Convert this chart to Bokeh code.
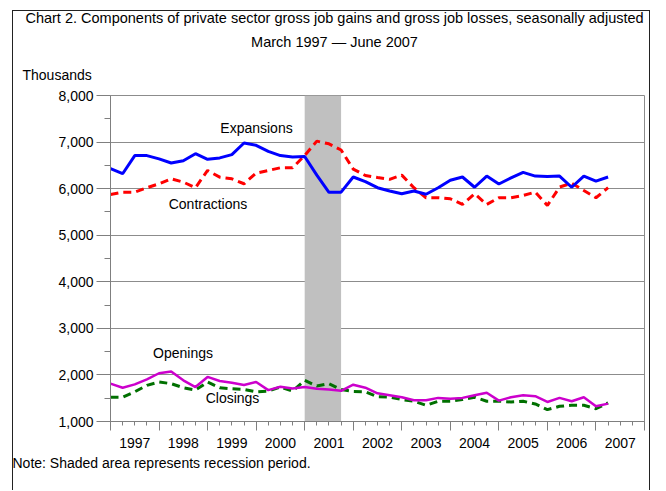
import numpy as np
from bokeh.plotting import figure
from bokeh.models import (Range1d, FixedTicker, LinearAxis, Label, BoxAnnotation, Title,
                          NumeralTickFormatter, Grid, InlineStyleSheet)
from bokeh.embed import file_html
from bokeh.resources import INLINE

# ---------------- data ----------------
years = ["1997", "1998", "1999", "2000", "2001", "2002", "2003", "2004", "2005", "2006", "2007"]
quarters = [f"{y}Q{q}" for y in years for q in (1, 2, 3, 4)][:42]   # 1997Q1 .. 2007Q2
recession = ("2001Q1", "2001Q4")

expansions = [6430, 6320, 6710, 6710, 6640, 6550, 6600, 6750, 6630, 6660, 6730, 6980,
              6930, 6800, 6710, 6680, 6690, 6290, 5920, 5925, 6250, 6150, 6020, 5950,
              5890, 5950, 5880, 6020, 6180, 6250, 6030, 6270, 6100, 6230, 6350, 6270,
              6260, 6270, 6030, 6270, 6160, 6250]
contractions = [5876, 5925, 5925, 6020, 6105, 6212, 6140, 6020, 6390, 6247, 6212, 6105,
                6333, 6390, 6448, 6448, 6712, 7020, 6963, 6830, 6420, 6283, 6240, 6200,
                6290, 6020, 5805, 5805, 5783, 5660, 5890, 5660, 5805, 5805, 5854, 5925,
                5640, 6033, 6118, 5960, 5805, 6020]
openings = [1812, 1725, 1797, 1906, 2036, 2072, 1884, 1739, 1957, 1870, 1833, 1783,
            1848, 1674, 1746, 1710, 1739, 1703, 1688, 1660, 1790, 1725, 1605, 1565,
            1522, 1457, 1457, 1507, 1486, 1507, 1565, 1616, 1449, 1522, 1565, 1543,
            1420, 1507, 1435, 1522, 1326, 1384]
closings = [1522, 1522, 1638, 1775, 1848, 1812, 1725, 1674, 1848, 1725, 1703, 1688,
            1638, 1652, 1739, 1652, 1884, 1761, 1812, 1688, 1645, 1638, 1530, 1522,
            1471, 1435, 1348, 1435, 1435, 1471, 1522, 1435, 1435, 1420, 1435, 1377,
            1254, 1326, 1348, 1348, 1275, 1400]

y_ticks = [1000, 2000, 3000, 4000, 5000, 6000, 7000, 8000]

title1 = "Chart 2. Components of private sector gross job gains and gross job losses, seasonally adjusted"
title2 = "March 1997 \u2014 June 2007"
y_unit = "Thousands"
note = "Note: Shaded area represents recession period."

# ---------------- layout ----------------
FONT = "Liberation Sans"
x = list(range(len(quarters)))
n_slots = 4 * len(years)
year_bounds = [4 * k for k in range(len(years) + 1)]
year_mids = [b + 2 for b in year_bounds[:-1]]

W, H = 650, 475
FRAME_L, FRAME_R, FRAME_T, FRAME_B = 110, 644, 95, 421
TITLE_FS = 14.5

# Arial / Liberation Sans advance widths (1/1000 em) for centring titles
_AW = {' ': 278, '.': 278, ',': 278, '-': 333, '\u2014': 1000, ':': 278}
_AW.update({d: 556 for d in "0123456789"})
_AW.update(dict(zip("ABCDEFGHIJKLMNOPQRSTUVWXYZ",
                    [667, 667, 722, 722, 667, 611, 778, 722, 278, 500, 667, 556, 833,
                     722, 778, 667, 778, 722, 667, 611, 722, 667, 944, 667, 667, 611])))
_AW.update(dict(zip("abcdefghijklmnopqrstuvwxyz",
                    [556, 556, 500, 556, 556, 278, 556, 556, 222, 222, 500, 222, 833,
                     556, 556, 556, 556, 333, 500, 278, 556, 500, 722, 500, 500, 500])))

def text_w(s, size):
    return sum(_AW.get(c, 556) for c in s) * size / 1000.0

p = figure(width=W, height=H, x_range=Range1d(0, n_slots),
           y_range=Range1d(y_ticks[0], y_ticks[-1]),
           output_backend="svg", toolbar_location=None, title=None,
           x_axis_type=None, y_axis_type=None,
           min_border_left=FRAME_L, min_border_right=W - FRAME_R,
           min_border_top=0, min_border_bottom=H - FRAME_B)
p.outline_line_color = "#8C8C8C"
p.outline_line_width = 1
p.background_fill_color = "white"
p.border_fill_color = "white"

AX = "#7F7F7F"
TICK_FS = "14px"

# y axis
yaxis = LinearAxis(ticker=FixedTicker(ticks=y_ticks,
                                      minor_ticks=[t + 500 for t in y_ticks[:-1]]),
                   formatter=NumeralTickFormatter(format="0,0"))
yaxis.axis_line_color = AX
yaxis.major_tick_line_color = AX
yaxis.minor_tick_line_color = AX
yaxis.major_tick_out = 14
yaxis.major_tick_in = 0
yaxis.minor_tick_out = 6
yaxis.minor_tick_in = 0
yaxis.major_label_standoff = 3
yaxis.major_label_text_font = FONT
yaxis.major_label_text_font_size = TICK_FS
yaxis.major_label_text_color = "black"
p.add_layout(yaxis, "left")

grid = Grid(dimension=1, ticker=yaxis.ticker, grid_line_color="#8C8C8C", grid_line_width=1)
p.add_layout(grid)

# x axis: tick marks (years long, quarters short)
xaxis_ticks = LinearAxis(ticker=FixedTicker(ticks=year_bounds, minor_ticks=list(range(n_slots + 1))),
                         major_label_overrides={b: "" for b in year_bounds})
xaxis_ticks.axis_line_color = AX
xaxis_ticks.major_tick_line_color = AX
xaxis_ticks.minor_tick_line_color = AX
xaxis_ticks.major_tick_out = 9
xaxis_ticks.major_tick_in = 0
xaxis_ticks.minor_tick_out = 4
xaxis_ticks.minor_tick_in = 0
xaxis_ticks.major_label_standoff = 0
xaxis_ticks.major_label_text_font_size = "1px"
p.add_layout(xaxis_ticks, "below")

# x axis: year labels centred in each year
xaxis_lab = LinearAxis(ticker=FixedTicker(ticks=year_mids, minor_ticks=[]),
                       major_label_overrides={m: y for m, y in zip(year_mids, years)})
xaxis_lab.axis_line_color = None
xaxis_lab.major_tick_line_color = None
xaxis_lab.minor_tick_line_color = None
xaxis_lab.major_tick_out = 0
xaxis_lab.major_tick_in = 0
xaxis_lab.minor_tick_out = 0
xaxis_lab.minor_tick_in = 0
xaxis_lab.major_label_standoff = 7
xaxis_lab.major_label_text_font = FONT
xaxis_lab.major_label_text_font_size = TICK_FS
xaxis_lab.major_label_text_color = "black"
p.add_layout(xaxis_lab, "below")

# note below
p.add_layout(Title(text=note, align="left", offset=12 - FRAME_L, vertical_align="bottom",
                   standoff=4, text_font=FONT, text_font_size="14px",
                   text_font_style="normal", text_color="black"), "below")

# titles above (first added is closest to the frame)
p.add_layout(Title(text=y_unit, align="left", offset=22 - FRAME_L, vertical_align="bottom",
                   standoff=26, text_font=FONT, text_font_size="14px",
                   text_font_style="normal", text_color="black"), "above")
p.add_layout(Title(text=title2, align="left",
                   offset=334 - text_w(title2, TITLE_FS) / 2 - FRAME_L,
                   vertical_align="top", standoff=0, text_font=FONT,
                   text_font_size=f"{TITLE_FS}px",
                   text_font_style="normal", text_color="black"), "above")
p.add_layout(Title(text=title1, align="left",
                   offset=334 - text_w(title1, TITLE_FS) / 2 - FRAME_L,
                   vertical_align="bottom", standoff=15, text_font=FONT,
                   text_font_size=f"{TITLE_FS}px",
                   text_font_style="normal", text_color="black"), "above")

# recession shading
rec = BoxAnnotation(left=quarters.index(recession[0]), right=quarters.index(recession[1]),
                    fill_color="#C0C0C0", fill_alpha=1.0, line_color=None, level="underlay")
p.add_layout(rec)

# series
p.line(x, contractions, line_color="#FF0000", line_width=3, line_dash="8 5")
p.line(x, expansions, line_color="#0000FF", line_width=3)
p.line(x, closings, line_color="#007000", line_width=3, line_dash="8 5")
p.line(x, openings, line_color="#CC00CC", line_width=2.5)

# series names (positions given in reference pixels, converted to data units)
def dx(px):
    return (px - FRAME_L) * n_slots / (FRAME_R - FRAME_L)

def dy(py):
    return y_ticks[-1] - (py - FRAME_T) * (y_ticks[-1] - y_ticks[0]) / (FRAME_B - FRAME_T)

for txt, px, py in [("Expansions", 256, 127), ("Contractions", 207.5, 203),
                    ("Openings", 182.5, 352), ("Closings", 232, 397)]:
    p.add_layout(Label(x=dx(px), y=dy(py), text=txt, text_align="center",
                       text_baseline="middle", text_font=FONT, text_font_size="14px",
                       text_color="black"))

# outer frame of the chart image
p.stylesheets = [InlineStyleSheet(css=""":host { position: relative; }
:host::after { content: ""; position: absolute; left: 12px; top: 10px; width: 638px; height: 480px;
  border: 1px solid #222; border-bottom: none; box-sizing: border-box; pointer-events: none; }""")]

open("out.html", "w").write(file_html(p, INLINE))
